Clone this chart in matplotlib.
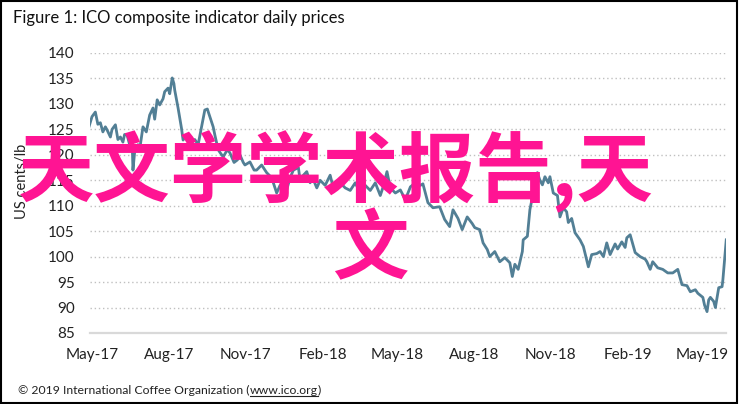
import matplotlib
matplotlib.use('Agg')
import matplotlib.pyplot as plt
from matplotlib.patches import Rectangle
from matplotlib.lines import Line2D
import pandas as pd

# ICO composite indicator (days counted from 1 May 2017)
start = pd.Timestamp('2017-05-01')
day_offset = [-4, 0, 4, 7, 10, 13, 16, 18, 22, 24, 28, 31, 34, 37, 39, 42, 45, 48, 49, 51,
              55, 57, 61, 65, 69, 73, 75, 78, 81, 85, 87, 91, 93, 96, 98, 99, 103, 107, 109, 112,
              115, 120, 123, 127, 132, 135, 138, 141, 145, 147, 151, 153, 157, 162, 165, 170, 174, 177, 181, 183,
              189, 194, 197, 203, 209, 215, 221, 225, 227, 233, 237, 241, 247, 249, 253, 257, 261, 264, 269, 273,
              279, 285, 288, 293, 297, 303, 309, 315, 321, 327, 333, 339, 345, 348, 353, 357, 363, 369, 375, 381,
              387, 393, 396, 402, 408, 416, 422, 428, 432, 438, 443, 449, 455, 458, 464, 468, 473, 476, 482, 488,
              494, 500, 503, 506, 510, 515, 516, 521, 524, 528, 533, 534, 536, 539, 542, 546, 548, 552, 557, 560,
              564, 568, 570, 574, 578, 584, 588, 594, 598, 604, 608, 612, 616, 620, 626, 629, 634, 638, 640, 644,
              650, 656, 662, 664, 668, 671, 677, 683, 689, 695, 701, 706, 712, 716, 722, 725, 731, 733, 736, 738,
              740, 744, 746, 750, 754, 755, 759]
price = [125.3, 127.5, 128.4, 126.0, 126.3, 124.5, 125.5, 124.9, 123.5, 125.0, 125.9, 123.0, 123.5, 122.5, 124.0, 123.9, 122.0, 122.9, 117.0, 120.5,
         122.0, 121.0, 125.5, 124.5, 127.8, 129.2, 127.0, 130.8, 129.8, 131.0, 132.4, 133.1, 132.0, 135.1, 134.0, 132.7, 129.2, 125.3, 122.9, 123.8,
         123.5, 122.5, 123.0, 122.0, 126.3, 128.8, 129.0, 127.5, 125.5, 123.9, 121.0, 120.5, 119.6, 121.0, 120.4, 118.5, 119.0, 120.0, 118.5, 118.0,
         118.6, 117.0, 117.0, 118.0, 116.5, 115.5, 112.5, 114.0, 113.5, 113.1, 115.5, 117.0, 117.5, 115.0, 116.0, 116.7, 114.5, 115.5, 113.5, 115.0,
         114.0, 116.0, 114.0, 113.3, 114.5, 113.5, 113.0, 114.5, 112.5, 114.0, 113.0, 114.5, 112.0, 113.5, 116.7, 113.5, 112.5, 113.1, 111.2, 113.7,
         114.5, 114.0, 114.3, 110.6, 109.6, 109.8, 107.3, 105.9, 109.2, 107.5, 105.3, 107.8, 106.5, 105.7, 105.3, 102.7, 101.4, 100.0, 101.0, 99.0,
         99.8, 98.8, 96.1, 98.5, 97.5, 101.0, 103.3, 104.0, 109.2, 112.5, 116.5, 116.0, 115.0, 114.1, 115.7, 114.5, 115.7, 112.5, 112.0, 107.8,
         109.6, 108.8, 106.7, 107.5, 104.7, 103.3, 102.0, 98.0, 100.4, 100.6, 101.0, 100.0, 102.7, 100.4, 102.5, 101.5, 102.9, 101.8, 103.7, 104.3,
         100.8, 100.0, 99.5, 99.0, 97.5, 99.0, 97.8, 97.5, 96.8, 96.8, 97.5, 94.5, 94.3, 93.1, 93.5, 92.8, 92.0, 90.5, 89.2, 91.5,
         92.0, 91.2, 90.0, 93.9, 94.1, 95.5, 103.3]

tick_dates = ['2017-05-01', '2017-08-01', '2017-11-01', '2018-02-01', '2018-05-01',
              '2018-08-01', '2018-11-01', '2019-02-01', '2019-05-01']
tick_labels = ['May-17', 'Aug-17', 'Nov-17', 'Feb-18', 'May-18',
               'Aug-18', 'Nov-18', 'Feb-19', 'May-19']
y_ticks = [85, 90, 95, 100, 105, 110, 115, 120, 125, 130, 135, 140]

W, H = 739, 404
fig = plt.figure(figsize=(W / 100, H / 100), dpi=100)
fig.patch.set_facecolor('white')

ax = fig.add_axes([90 / W, 1 - 333 / H, (726 - 90) / W, (333 - 53) / H])
dates = start + pd.to_timedelta(day_offset, unit='D')
ax.plot(dates, price, color='#527f95', lw=2.0, solid_joinstyle='round')

ax.set_ylim(85, 140)
ax.set_xlim(start - pd.Timedelta(days=2.4), start + pd.Timedelta(days=758.7))
ax.set_yticks(y_ticks)
ax.set_xticks(pd.to_datetime(tick_dates))
ax.set_xticklabels(tick_labels)
for v in y_ticks[1:]:
    ax.axhline(v, color='#c0c0c0', lw=1, ls=(0, (1, 2)), zorder=0)
for s in ['top', 'right', 'left']:
    ax.spines[s].set_visible(False)
ax.spines['bottom'].set_color('#d9d9d9')
ax.spines['bottom'].set_linewidth(1.6)
ax.tick_params(length=0, labelsize=11, labelcolor='#222222')
ax.tick_params(axis='y', pad=11)
ax.tick_params(axis='x', pad=11)
for lab in ax.get_xticklabels() + ax.get_yticklabels():
    lab.set_family('Lato')

fig.text(22 / W, 1 - 181 / H, 'US cents/lb', rotation=90, ha='center', va='center',
         fontsize=10.5, family='Lato', color='#222222')

fig.text(13 / W, 1 - 18 / H, 'Figure 1: ICO composite indicator daily prices',
         ha='left', va='center', fontsize=12, family='Lato', color='#111111')

# footer with underlined link
fig.canvas.draw()
r = fig.canvas.get_renderer()
x0 = 18
parts = ['\u00a9 2019 International Coffee Organization (', 'www.ico.org', ')']
for i, p in enumerate(parts):
    t = fig.text(x0 / W, 1 - 390 / H, p, ha='left', va='center', fontsize=8.8,
                 family='Lato', color='#222222')
    bb = t.get_window_extent(renderer=r)
    if i == 1:
        fig.add_artist(Line2D([bb.x0 / W, bb.x1 / W], [(bb.y0 - 0.5) / H] * 2,
                              color='#222222', lw=0.8))
    x0 = x0 + bb.width

# pink overlay text
pink = '#ff1493'
fig.text(18 / W, 1 - 172 / H, '天文学学术报告,天', ha='left', va='center',
         fontsize=55, color=pink, family=['Noto Sans CJK SC', 'DejaVu Sans'], weight='bold')
fig.text(370 / W, 1 - 251 / H, '文', ha='center', va='center',
         fontsize=55, color=pink, family=['Noto Sans CJK SC', 'DejaVu Sans'], weight='bold')

fig.add_artist(Rectangle((0.001, 0.002), 0.996, 0.995, transform=fig.transFigure,
                         fill=False, edgecolor='black', lw=1.5))

fig.savefig('out.png', dpi=100, facecolor='white')
